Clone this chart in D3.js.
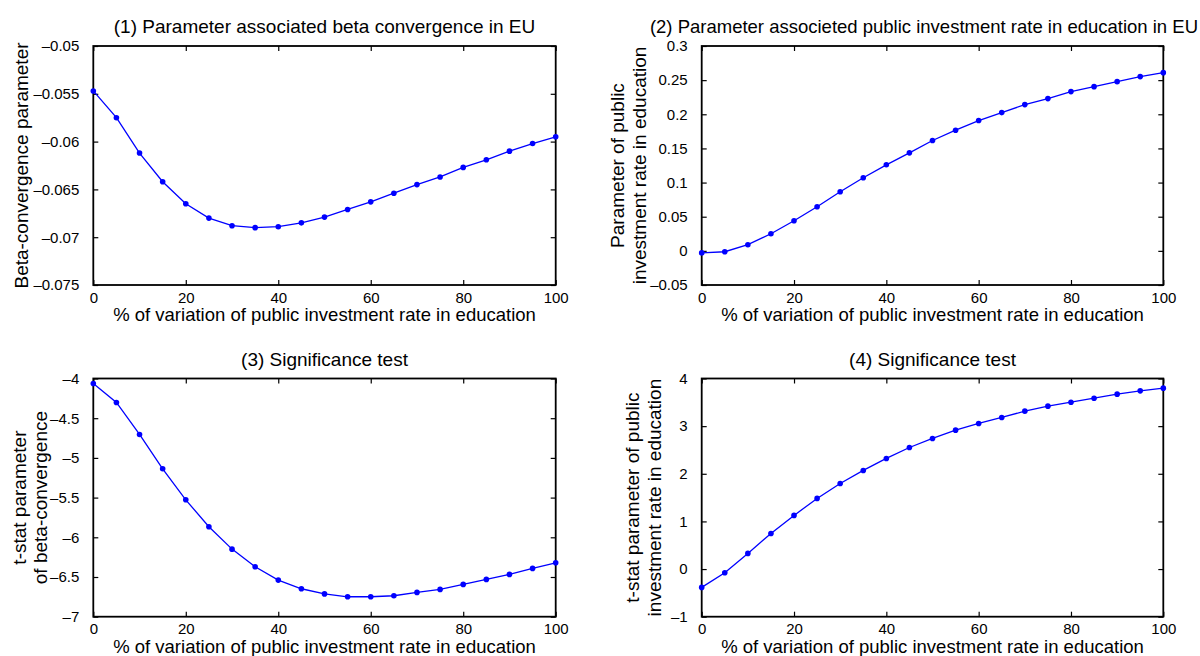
<!DOCTYPE html>
<html>
<head>
<meta charset="utf-8">
<script src="https://cdn.jsdelivr.net/npm/d3@7"></script>
<style>
  body { margin: 0; background: #fff; }
  svg text { font-family: "Liberation Sans", Arial, Helvetica, sans-serif; fill: #000; }
</style>
</head>
<body>
<svg id="chart" width="1200" height="656"></svg>
<script>
// x positions (% of variation)
const pctVariation = [0, 5, 10, 15, 20, 25, 30, 35, 40, 45, 50, 55, 60, 65, 70, 75, 80, 85, 90, 95, 100];

// (1) beta-convergence parameter
const betaParam = [-0.0547, -0.0575, -0.0612, -0.0642, -0.0665, -0.0680, -0.0688, -0.0690, -0.0689,
    -0.0685, -0.0679, -0.0671, -0.0663, -0.0654, -0.0645, -0.0637, -0.0627, -0.0619, -0.0610, -0.0602, -0.0595];

// (2) public investment rate in education parameter
const eduParam = [-0.003, -0.0013, 0.009, 0.025, 0.044, 0.0646, 0.0865, 0.107, 0.126, 0.1435,
    0.1616, 0.1767, 0.1908, 0.2025, 0.2142, 0.223, 0.2332, 0.2405, 0.2478, 0.2552, 0.261];

// (3) t-stat of beta-convergence
const betaTstat = [-4.063, -4.302, -4.705, -5.137, -5.528, -5.867, -6.149, -6.371, -6.539, -6.648,
    -6.713, -6.749, -6.749, -6.736, -6.694, -6.656, -6.593, -6.530, -6.467, -6.392, -6.321];

// (4) t-stat of education parameter
const eduTstat = [-0.385, -0.077, 0.329, 0.748, 1.126, 1.483, 1.797, 2.070, 2.322, 2.552,
    2.741, 2.916, 3.056, 3.182, 3.315, 3.420, 3.503, 3.587, 3.671, 3.741, 3.797];

// tick labels
const xTicks = [0, 20, 40, 60, 80, 100];
const yTicks1 = [-0.075, -0.07, -0.065, -0.06, -0.055, -0.05];
const yTicks2 = [-0.05, 0, 0.05, 0.1, 0.15, 0.2, 0.25, 0.3];
const yTicks3 = [-7, -6.5, -6, -5.5, -5, -4.5, -4];
const yTicks4 = [-1, 0, 1, 2, 3, 4];

const xLabel = '% of variation of public investment rate in education';

// layout per panel: box = [left, top, right, bottom], lx = baselines of y-label lines (offset from left)
const panels = [
    { title: '(1) Parameter associated beta convergence in EU', values: betaParam, yTicks: yTicks1,
      yLabel: ['Beta-convergence parameter'], lx: [-65], box: [93.3, 46, 555.7, 285] },
    { title: '(2) Parameter associeted public investment rate in education in EU', values: eduParam, yTicks: yTicks2,
      yLabel: ['Parameter of public', 'investment rate in education'], lx: [-78, -56], box: [701.7, 46, 1163.3, 285],
      titleEnd: 1198, titleSize: 18.5 },
    { title: '(3) Significance test', values: betaTstat, yTicks: yTicks3,
      yLabel: ['t-stat parameter', 'of beta-convergence'], lx: [-67, -46], box: [93.3, 378.5, 555.7, 616.7] },
    { title: '(4) Significance test', values: eduTstat, yTicks: yTicks4,
      yLabel: ['t-stat parameter of public', 'investment rate in education'], lx: [-62.5, -41], box: [701.7, 378.5, 1163.3, 616.7] }
];

const svg = d3.select('#chart');
const fmt = v => (v < 0 ? '\u2013' : '') + String(Math.abs(+v.toFixed(4)));
const TICK = 5;

panels.forEach(p => {
    const [x0, y0, x1, y1] = p.box;
    const ext = d3.extent(p.yTicks);
    const x = d3.scaleLinear().domain([0, 100]).range([x0, x1]);
    const y = d3.scaleLinear().domain(ext).range([y1, y0]);
    const g = svg.append('g');

    // axes, ticks pointing inward on all four sides
    g.append('g').attr('transform', `translate(0,${y1})`)
        .call(d3.axisBottom(x).tickValues(xTicks).tickSizeInner(-TICK).tickSizeOuter(0).tickPadding(7).tickFormat(d3.format('d')));
    g.append('g').attr('transform', `translate(0,${y0})`)
        .call(d3.axisTop(x).tickValues(xTicks).tickSizeInner(-TICK).tickSizeOuter(0).tickFormat(''));
    g.append('g').attr('transform', `translate(${x0},0)`)
        .call(d3.axisLeft(y).tickValues(p.yTicks).tickSizeInner(-TICK).tickSizeOuter(0).tickPadding(14).tickFormat(fmt));
    g.append('g').attr('transform', `translate(${x1},0)`)
        .call(d3.axisRight(y).tickValues(p.yTicks).tickSizeInner(-TICK).tickSizeOuter(0).tickFormat(''));

    g.selectAll('.domain').remove();
    g.selectAll('.tick line').attr('stroke', '#000').attr('stroke-width', 1.2);
    g.selectAll('.tick text').attr('font-size', 15).attr('fill', '#000')
        .attr('font-family', '"Liberation Sans", Arial, sans-serif');

    g.append('rect')
        .attr('x', x0).attr('y', y0).attr('width', x1 - x0).attr('height', y1 - y0)
        .attr('fill', 'none').attr('stroke', '#000').attr('stroke-width', 1.8);

    // data line and markers
    const pts = pctVariation.map((v, i) => [v, p.values[i]]);
    g.append('path').datum(pts)
        .attr('fill', 'none').attr('stroke', '#0000ff').attr('stroke-width', 1.3)
        .attr('d', d3.line().x(d => x(d[0])).y(d => y(d[1])));
    g.selectAll('circle.pt').data(pts).enter().append('circle')
        .attr('class', 'pt')
        .attr('cx', d => x(d[0])).attr('cy', d => y(d[1])).attr('r', 2.8)
        .attr('fill', '#0000ff');

    // title (long one is pinned to the right edge so it stays inside)
    g.append('text')
        .attr('x', p.titleEnd || (x0 + x1) / 2).attr('y', y0 - 13)
        .attr('text-anchor', p.titleEnd ? 'end' : 'middle').attr('font-size', p.titleSize || 19)
        .text(p.title);

    // x label
    g.append('text')
        .attr('x', (x0 + x1) / 2).attr('y', y1 + 36)
        .attr('text-anchor', 'middle').attr('font-size', 18.5)
        .text(xLabel);

    // y label (one or two lines)
    const cy = (y0 + y1) / 2;
    p.yLabel.forEach((s, i) => {
        g.append('text')
            .attr('transform', `translate(${x0 + p.lx[i]},${cy}) rotate(-90)`)
            .attr('text-anchor', 'middle').attr('font-size', 19)
            .text(s);
    });
});
</script>
</body>
</html>
